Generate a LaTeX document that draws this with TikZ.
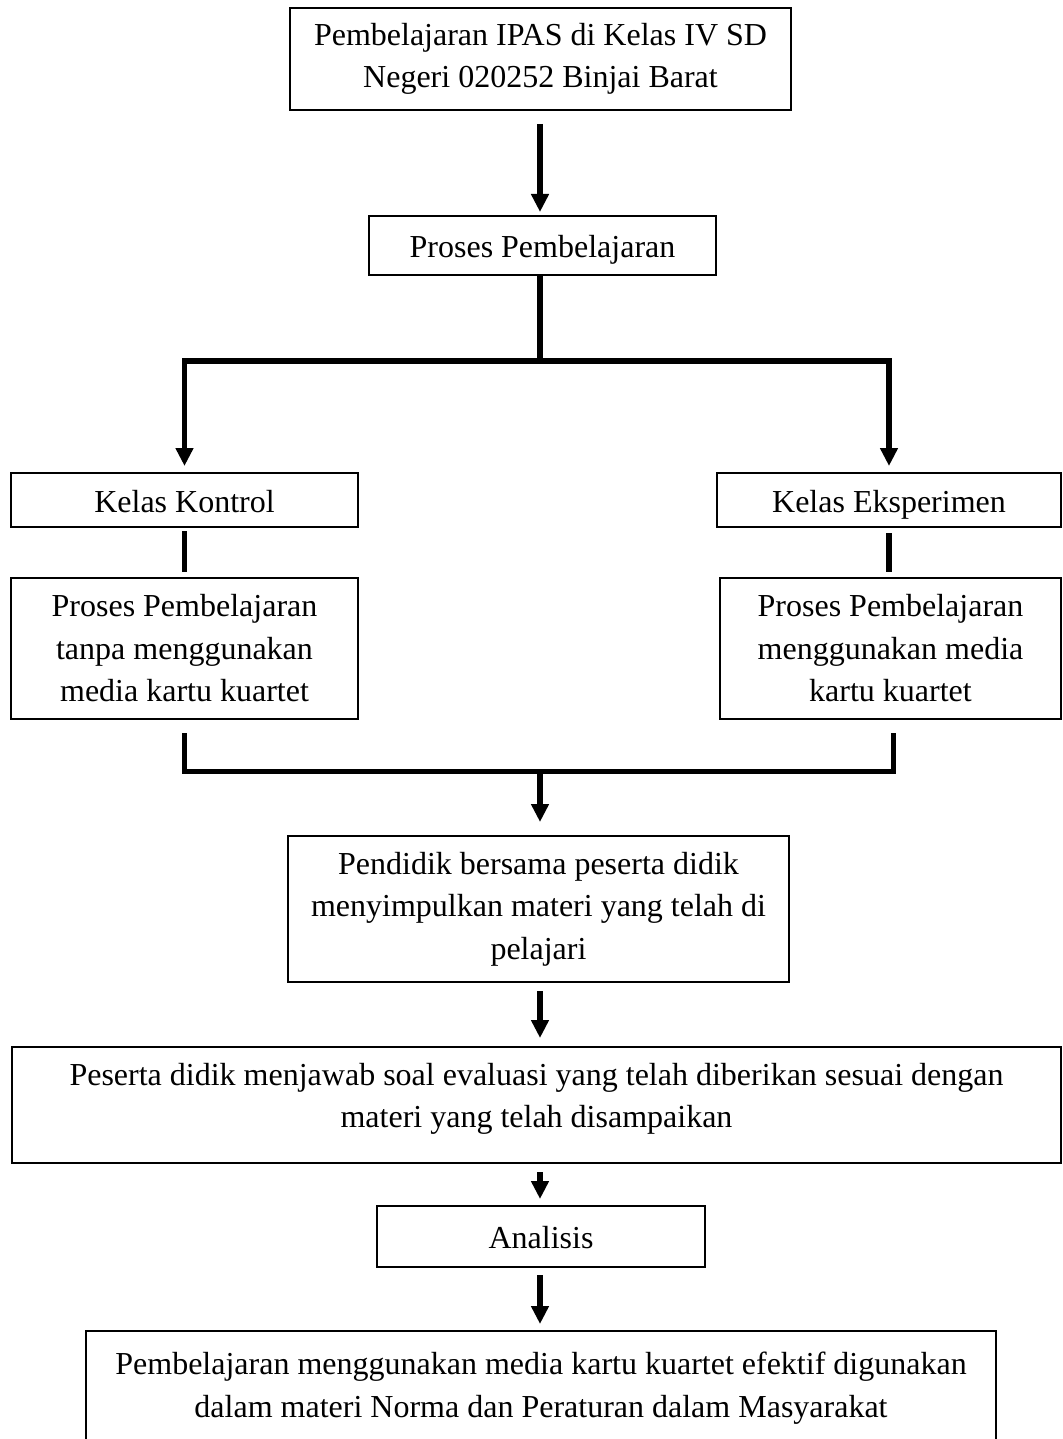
\documentclass[tikz,border=0pt]{standalone}
\usepackage{fontspec}
\setmainfont{Liberation Serif}
\usetikzlibrary{arrows.meta,calc}
\begin{document}
\begin{tikzpicture}[x=1pt,y=-1pt,
  box/.style={draw=black,line width=1.6pt,inner sep=0pt,outer sep=0pt,
    align=center,font=\fontsize{32}{42.5}\selectfont},
  onebox/.style={draw=black,line width=1.6pt,inner sep=0pt,outer sep=0pt,
    text height=28pt,text depth=4pt,font=\fontsize{32}{42.5}\selectfont},
  txt/.style={inner sep=0pt,align=center,font=\fontsize{32}{42.5}\selectfont},
  conn/.style={line width=5.5pt,draw=black},
  arr/.style={conn,-{Triangle[length=18pt,width=17pt]}}]
\useasboundingbox (0,0) rectangle (1062,1439);
% boxes
\node[box,minimum width=501pt,minimum height=102pt] (top) at (540.5,59)
  {Pembelajaran IPAS di Kelas IV SD\\Negeri 020252 Binjai Barat};
\node[onebox,minimum width=347pt,minimum height=59pt] (proc) at (542.5,245.5)
  {Proses Pembelajaran};
\node[onebox,minimum width=347pt,minimum height=54pt] (kk) at (184.5,500)
  {Kelas Kontrol};
\node[onebox,minimum width=344pt,minimum height=54pt] (ke) at (889,500)
  {Kelas Eksperimen};
\node[box,minimum width=347pt,minimum height=141pt] (pk) at (184.5,648.5)
  {Proses Pembelajaran\\tanpa menggunakan\\media kartu kuartet};
\node[box,minimum width=341pt,minimum height=141pt] (pe) at (890.5,648.5)
  {Proses Pembelajaran\\menggunakan media\\kartu kuartet};
\node[box,minimum width=501pt,minimum height=146pt] (pend) at (538.5,909)
  {Pendidik bersama peserta didik\\menyimpulkan materi yang telah di\\pelajari};
\node[box,minimum width=1049pt,minimum height=116pt] (pes) at (536.5,1105) {};
\node[txt] (pesT) at (536.5,1099)
  {Peserta didik menjawab soal evaluasi yang telah diberikan sesuai dengan\\materi yang telah disampaikan};
\node[onebox,minimum width=328pt,minimum height=61pt] (ana) at (541,1236.5)
  {Analisis};
\node[box,minimum width=910pt,minimum height=140pt] (fin) at (541,1401) {};
\node[txt] (finT) at (541,1388)
  {Pembelajaran menggunakan media kartu kuartet efektif digunakan\\dalam materi Norma dan Peraturan dalam Masyarakat};
% connectors
\coordinate (b1) at (540,361);
\coordinate (m) at (540,771.5);
\draw[arr,shorten <=14pt,shorten >=4pt] (top.south -| b1) -- (b1 |- proc.north);
\draw[conn] (b1 |- proc.south) -- (b1);
\draw[arr,shorten >=7pt] (b1) -| (kk.north);
\draw[arr,shorten >=7pt] (b1) -| (ke.north);
\draw[conn,shorten <=4pt,shorten >=6pt] (kk.south) -- (pk.north);
\draw[conn,shorten <=6pt,shorten >=6pt] (ke.south) -- (ke.south |- pe.north);
\draw[conn,shorten <=14pt] (pk.south) |- (m);
\draw[conn,shorten <=14pt] ($(pe.south)+(3,0)$) |- (m);
\draw[arr,shorten >=14pt] (m) -- (m |- pend.north);
\draw[arr,shorten <=9pt,shorten >=9pt] (m |- pend.south) -- (m |- pes.north);
\draw[arr,shorten <=9pt,shorten >=7pt] (m |- pes.south) -- (m |- ana.north);
\draw[arr,shorten <=8pt,shorten >=7pt] (m |- ana.south) -- (m |- fin.north);
\end{tikzpicture}
\end{document}
